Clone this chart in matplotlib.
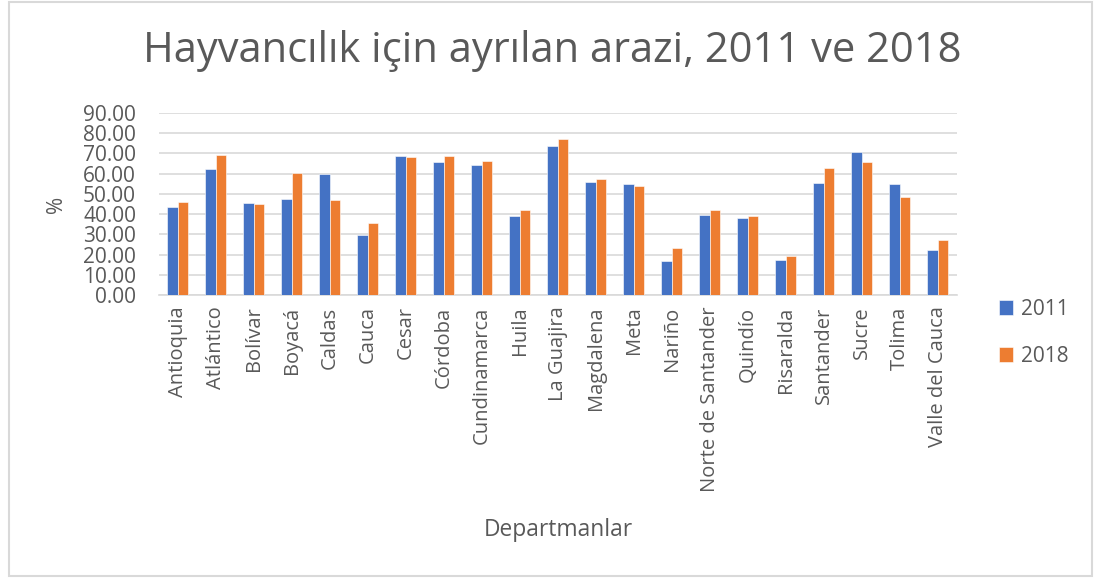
import matplotlib
matplotlib.use("Agg")
import matplotlib.pyplot as plt
import numpy as np
from matplotlib.patches import Rectangle

plt.rcParams['font.family'] = ['Open Sans', 'DejaVu Sans']

departments = ["Antioquia", "Atlántico", "Bolívar", "Boyacá", "Caldas", "Cauca",
               "Cesar", "Córdoba", "Cundinamarca", "Huila", "La Guajira",
               "Magdalena", "Meta", "Nariño", "Norte de Santander", "Quindío",
               "Risaralda", "Santander", "Sucre", "Tolima", "Valle del Cauca"]
values_2011 = [43.3, 62.4, 45.6, 47.5, 59.9, 29.7, 68.8, 65.5, 64.2, 38.9, 73.7,
               55.8, 55.0, 16.7, 39.7, 38.1, 17.4, 55.3, 70.4, 54.7, 22.3]
values_2018 = [46.1, 69.0, 45.0, 60.1, 46.8, 35.5, 68.3, 68.6, 66.0, 42.0, 76.8,
               57.3, 54.0, 23.2, 42.0, 39.1, 19.5, 62.7, 65.5, 48.3, 27.1]
yticks = np.arange(0, 100, 10)

text_color = "#595959"
grid_color = "#D9D9D9"
blue = "#4472C4"
orange = "#ED7D31"

fig = plt.figure(figsize=(10.96, 5.78), dpi=100)
ax = fig.add_axes([0.145, 0.489, 0.728, 0.316])

x = np.arange(len(departments))
w = 0.275
ax.bar(x - w / 2, values_2011, w, color=blue, label="2011", zorder=3,
       edgecolor="white", linewidth=0.4)
ax.bar(x + w / 2, values_2018, w, color=orange, label="2018", zorder=3,
       edgecolor="white", linewidth=0.4)

ax.set_xlim(-0.5, len(departments) - 0.5)
ax.set_ylim(0, 90)
ax.set_yticks(yticks)
ax.set_yticklabels([f"{v:.2f}" for v in yticks], fontsize=15, color=text_color)
ax.set_xticks(x)
ax.set_xticklabels(departments, rotation=90, fontsize=14.5, color=text_color)
ax.tick_params(axis="y", length=0, pad=16.5)
ax.tick_params(axis="x", length=0, pad=8)
ax.grid(axis="y", color=grid_color, linewidth=1.2, zorder=0)
for s in ["top", "right", "left"]:
    ax.spines[s].set_visible(False)
ax.spines["bottom"].set_color(grid_color)
ax.spines["bottom"].set_linewidth(1.2)

ax.set_ylabel("%", fontsize=15, color=text_color)
ax.yaxis.set_label_coords(-0.115, 0.5)
fig.text(0.509, 0.083, "Departmanlar", ha="center", va="center",
         fontsize=16.4, color=text_color)
fig.text(0.504, 0.912, "Hayvancılık için ayrılan arazi, 2011 ve 2018", ha="center",
         va="center", fontsize=30, color=text_color)

leg = fig.legend(loc="center left", bbox_to_anchor=(0.894, 0.424), frameon=False,
                 fontsize=15, labelcolor=text_color, handlelength=0.7,
                 handleheight=0.7, handletextpad=0.4, labelspacing=1.25)

fig.patches.append(Rectangle((0.008, 0.004), 0.988, 0.993, transform=fig.transFigure,
                             fill=False, edgecolor=grid_color, linewidth=1.5))

fig.savefig("out.png", dpi=100)
